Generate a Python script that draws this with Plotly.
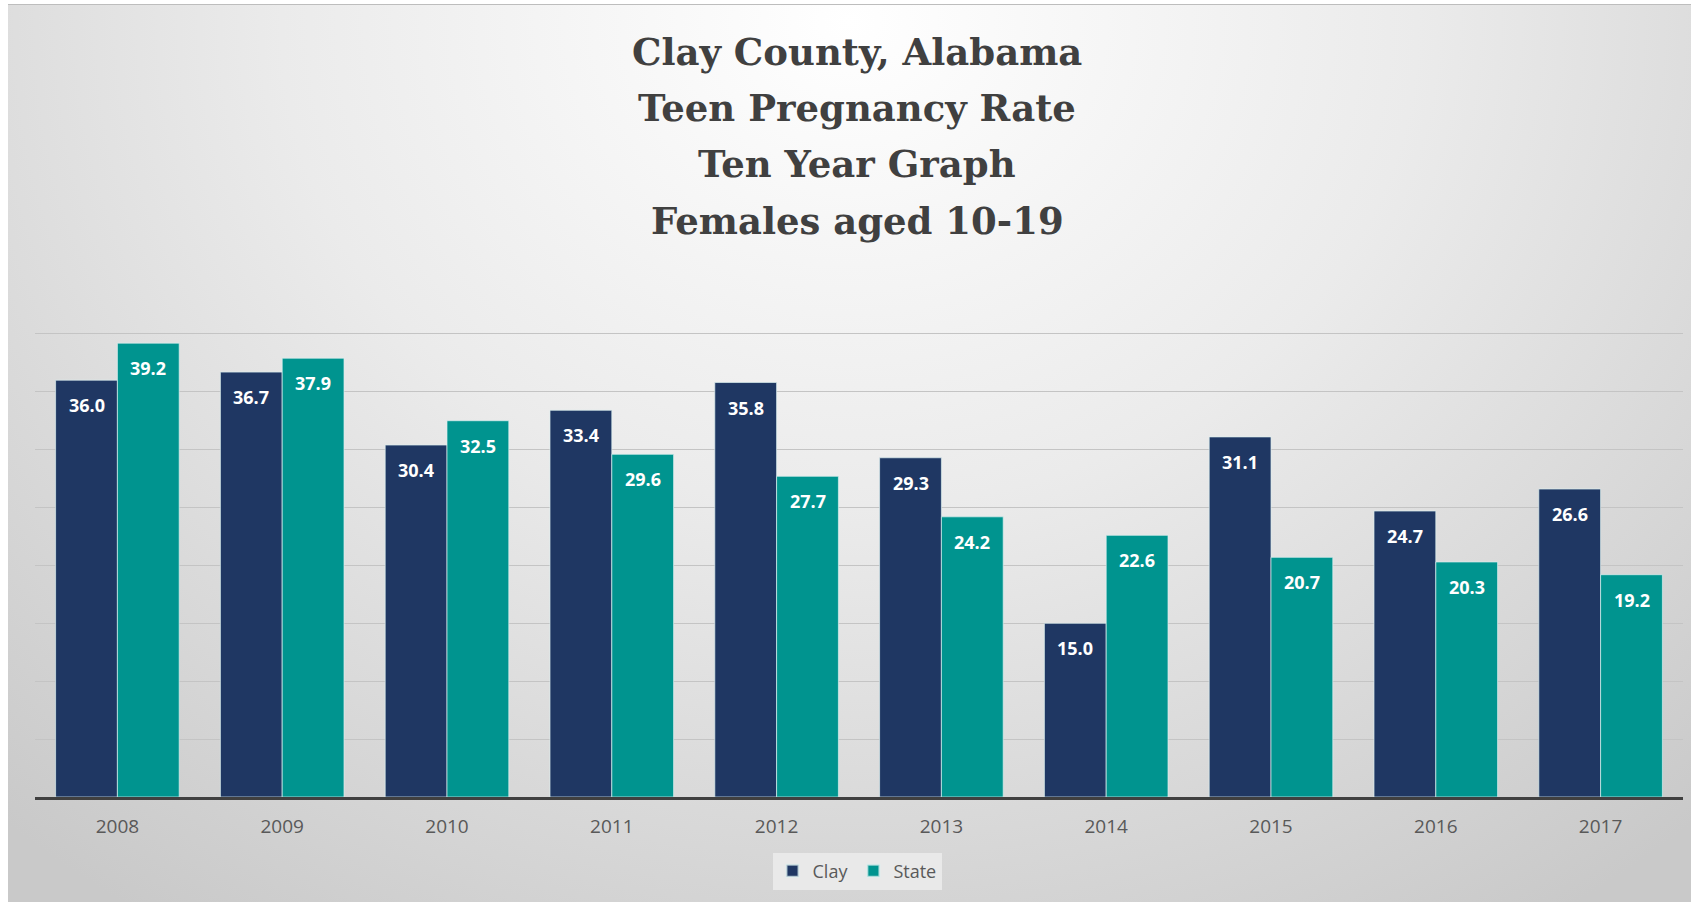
import base64
import plotly.graph_objects as go

years = ["2008", "2009", "2010", "2011", "2012", "2013", "2014", "2015", "2016", "2017"]
clay = [36.0, 36.7, 30.4, 33.4, 35.8, 29.3, 15.0, 31.1, 24.7, 26.6]
state = [39.2, 37.9, 32.5, 29.6, 27.7, 24.2, 22.6, 20.7, 20.3, 19.2]
series_names = ["Clay", "State"]
title_lines = ["Clay County, Alabama", "Teen Pregnancy Rate", "Ten Year Graph", "Females aged 10-19"]

W, H = 1691, 902
ML, MR, MT, MB = 35, 8, 276, 105
PW, PH = W - ML - MR, H - MT - MB

NAVY = "#1f3763"
TEAL = "#00948f"
BARGAP = 0.25

svg = f"""<svg xmlns='http://www.w3.org/2000/svg' width='{W}' height='{H}' viewBox='0 0 {W} {H}'>
<defs><radialGradient id='g' cx='0.5' cy='0.02' r='0.75' gradientTransform='translate(0.5 0.02) scale(1 1.6) translate(-0.5 -0.02)'>
<stop offset='0' stop-color='#ffffff'/><stop offset='0.45' stop-color='#ebebeb'/><stop offset='1' stop-color='#c9c9c9'/></radialGradient></defs>
<rect x='0' y='0' width='{W}' height='{H}' fill='#ffffff'/>
<rect x='8' y='4' width='{W-8}' height='{H-4}' fill='url(#g)'/>
<line x1='8' y1='4.5' x2='{W}' y2='4.5' stroke='#bdbdbd' stroke-width='1'/>
</svg>"""
src = "data:image/svg+xml;base64," + base64.b64encode(svg.encode()).decode()

fig = go.Figure()
for name, vals, col in [(series_names[0], clay, NAVY), (series_names[1], state, TEAL)]:
    fig.add_trace(go.Bar(
        x=years, y=vals, name=name,
        marker=dict(color=col, line=dict(color="rgba(220,240,240,0.7)", width=1)),
        hoverinfo="x+y+name",
    ))

# value labels, inside end of each bar
half = (1 - BARGAP) / 2
for k, vals in enumerate([clay, state]):
    off = -half / 2 if k == 0 else half / 2
    for i, v in enumerate(vals):
        fig.add_annotation(
            x=i + off, y=v, xref="x", yref="y",
            text=f"<b>{v:.1f}</b>", showarrow=False, yshift=-25,
            font=dict(family="Open Sans, Noto Sans, sans-serif", size=18, color="#ffffff"),
        )

# title, one line per annotation for Excel-like line spacing
title_centers_px = [52, 108, 164, 221]
for line, yc in zip(title_lines, title_centers_px):
    fig.add_annotation(
        x=(857 - ML) / PW, xref="paper", y=1 + (MT - yc) / PH, yref="paper",
        text=f"<b>{line}</b>", showarrow=False, yanchor="middle", xanchor="center",
        font=dict(family="DejaVu Serif, serif", size=37, color="#404040"),
    )

fig.update_layout(
    width=W, height=H,
    margin=dict(l=ML, r=MR, t=MT, b=MB, pad=0),
    paper_bgcolor="#ffffff",
    plot_bgcolor="rgba(0,0,0,0)",
    barmode="group", bargap=BARGAP, bargroupgap=0,
    showlegend=True,
    legend=dict(
        orientation="h", x=(857 - ML) / PW, xanchor="center", y=-(871 - 797) / PH, yanchor="middle",
        font=dict(family="Open Sans, Noto Sans, sans-serif", size=18, color="#595959"),
        bgcolor="rgba(235,235,235,0.9)", itemsizing="constant",
        traceorder="normal", itemwidth=30, tracegroupgap=0,
    ),
    images=[dict(
        source=src, xref="paper", yref="paper",
        x=-ML / PW, y=1 + MT / PH, sizex=W / PW, sizey=H / PH,
        xanchor="left", yanchor="top", sizing="stretch", layer="below",
    )],
    xaxis=dict(
        type="category", showgrid=False, ticks="",
        tickfont=dict(family="Open Sans, Noto Sans, sans-serif", size=19, color="#595959"),
        showline=True, linecolor="#404040", linewidth=2.5,
        ticklabelstandoff=10,
    ),
    yaxis=dict(
        range=[0, 45], dtick=5, showticklabels=False, showgrid=True,
        gridcolor="#c4c4c4", gridwidth=1.3, zeroline=False,
    ),
)

fig.write_html(
    "out.html",
    config={"displayModeBar": False},
    post_script="document.body.style.margin='0';document.body.style.overflow='hidden';",
)
